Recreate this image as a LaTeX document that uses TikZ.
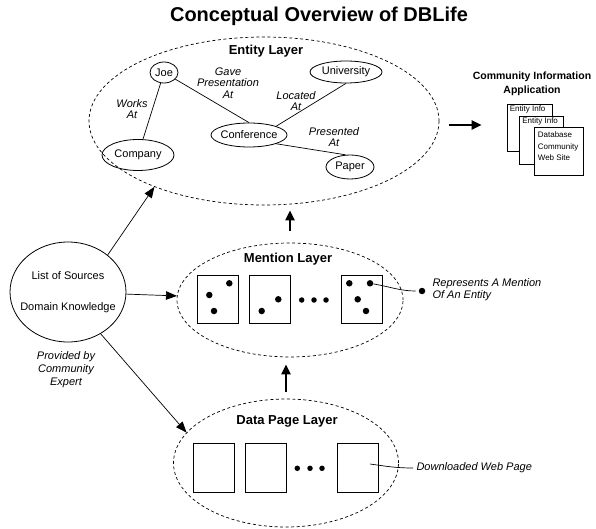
\documentclass[tikz,border=0pt]{standalone}
\usepackage{fontspec}
\setmainfont{Liberation Sans}
\usetikzlibrary{arrows.meta,shapes}

\begin{document}
\begin{tikzpicture}[x=1pt,y=-1pt]

		\useasboundingbox (0,0) rectangle (596,529);

		\tikzstyle{edge} = [draw,-,line width=0.7pt]
		\tikzstyle{arr} = [draw,-{Triangle[length=11pt,width=8.5pt]},line width=0.7pt]
		\tikzstyle{bigarr} = [draw,-{Triangle[length=10pt,width=9pt]},line width=2pt]

		\tikzset{layer/.style = {shape=ellipse,draw,dash pattern=on 3pt off 2.5pt,line width=0.7pt,inner sep=0pt}}
		\tikzset{vertex/.style = {shape=ellipse,draw,line width=0.8pt,inner xsep=-4pt,inner ysep=1pt,font=\fontsize{11}{13}\selectfont}}
		\tikzset{rel/.style = {align=center,font=\fontsize{11}{11.7}\selectfont\itshape}}
		\tikzset{title/.style = {font=\fontsize{13}{15}\selectfont\bfseries}}
		\tikzset{docbox/.style = {shape=rectangle,draw,line width=0.8pt,minimum width=41,minimum height=48,inner sep=0pt}}
		\tikzset{dot/.style = {shape=circle,fill,inner sep=0pt,minimum size=6.5}}
		\tikzset{sdot/.style = {shape=circle,fill,inner sep=0pt,minimum size=5.5}}
		\tikzset{page/.style = {shape=rectangle,draw,fill=white,line width=0.7pt,inner sep=0pt}}
		\tikzset{pagetxt/.style = {inner sep=1pt,font=\fontsize{8}{11.5}\selectfont}}

		\node[font=\fontsize{20}{24}\selectfont\bfseries] (head) at (319,16) {Conceptual Overview of DBLife};

		% entity layer
		\node[layer,minimum width=350,minimum height=168] (ent) at (264,121) {};
		\node[title] (entl) at (266,51) {Entity Layer};
		\node[vertex,minimum width=28,minimum height=21] (joe) at (164,72.5) {Joe};
		\node[vertex,minimum width=72,minimum height=22] (univ) at (346,72) {University};
		\node[vertex,minimum width=76,minimum height=24] (conf) at (249,135) {Conference};
		\node[vertex,minimum width=72,minimum height=31] (comp) at (138,155) {Company};
		\node[vertex,minimum width=48,minimum height=24] (pap) at (350,167) {Paper};

		\draw[edge] (joe) to (comp);
		\draw[edge] (joe) to (conf.north);
		\draw[edge] (conf.north east) to (univ.south);
		\draw[edge] (conf.south east) to (pap.110);

		\node[rel] (works) at (132,109) {Works\\At};
		\node[rel] (gave) at (228,83) {Gave\\Presentation\\At};
		\node[rel] (loc) at (296,101) {Located\\At};
		\node[rel] (pres) at (334,137) {Presented\\At};

		% community information application
		\node[align=center,font=\fontsize{10.5}{14}\selectfont\bfseries] (appl) at (532,84) {Community Information\\Application};
		\node[page,minimum width=45,minimum height=47] (p1) at (529.5,127.5) {};
		\node[pagetxt,anchor=north west] (p1t) at ([xshift=2pt,yshift=-1pt]p1.north west) {Entity Info};
		\node[page,minimum width=44,minimum height=48] (p2) at (541,140) {};
		\node[pagetxt,anchor=north west] (p2t) at ([xshift=2.5pt,yshift=-1pt]p2.north west) {Entity Info};
		\node[page,minimum width=49,minimum height=48] (p3) at (558.5,151) {};
		\node[pagetxt,anchor=north west,align=left] (p3t) at ([xshift=3pt,yshift=-4pt]p3.north west) {Database\\Community\\Web Site};

		\draw[bigarr,shorten <=10pt,shorten >=25pt] ([yshift=-4pt]ent.east) to ([yshift=-4pt]ent.east -| p1.west);

		% sources
		\node[vertex,inner xsep=-14pt,align=center,minimum width=116,minimum height=100] (src) at (68,292) {List of Sources\\[18pt]Domain Knowledge};
		\node[rel,font=\fontsize{11}{13}\selectfont\itshape] (prov) at (66,370) {Provided by\\Community\\Expert};

		% mention layer
		\node[layer,minimum width=226,minimum height=114] (men) at (290,300) {};
		\node[title] (menl) at (288,259) {Mention Layer};
		\node[docbox] (m1) at (217.5,299) {};
		\node[docbox] (m2) at (269.5,299) {};
		\node[docbox] (m3) at (362,299) {};
		\node[dot] (m1a) at (229.3,283.3) {};
		\node[dot] (m1b) at (209.3,295) {};
		\node[dot] (m1c) at (214,311) {};
		\node[dot] (m2a) at (278.3,299.3) {};
		\node[dot] (m2b) at (261.7,311) {};
		\node[sdot] (me1) at (301.7,300) {};
		\node[sdot] (me2) at (314,300) {};
		\node[sdot] (me3) at (326,300) {};
		\node[dot] (m3a) at (349.3,283.3) {};
		\node[dot] (m3b) at (370,283.3) {};
		\node[dot] (m3c) at (357.7,299.3) {};
		\node[dot] (m3d) at (366,311) {};

		\node[dot] (mdot) at (422,291) {};
		\node[rel,align=left,anchor=west] (mlab) at (429,290) {Represents A Mention\\Of An Entity};
		\draw[edge,shorten >=3pt] (m3b) to[out=-10,in=180] (mdot);

		% data page layer
		\node[layer,minimum width=225,minimum height=128] (dat) at (286,463) {};
		\node[title] (datl) at (287,421) {Data Page Layer};
		\node[docbox,minimum height=49] (d1) at (213.5,467.5) {};
		\node[docbox,minimum height=49] (d2) at (266,467.5) {};
		\node[docbox,minimum height=49] (d3) at (358,467.5) {};
		\node[sdot] (de1) at (297.3,468.3) {};
		\node[sdot] (de2) at (310,468.3) {};
		\node[sdot] (de3) at (322,468.3) {};

		\coordinate (d3in) at (370,464);
		\node[rel,anchor=west] (dlab) at (413,468) {Downloaded Web Page};
		\draw[edge] (d3in) to[out=-8,in=180] (dlab.west);

		% arrows between layers
		\draw[arr] (src.43) to (ent.211);
		\draw[arr] (src) to (men);
		\draw[arr] (src.308) to (dat.163);
		\draw[bigarr,shorten <=12pt,shorten >=5pt] (men.north) to (men.north |- ent.south);
		\draw[bigarr,shorten <=7pt,shorten >=7pt] (dat.north) to (dat.north |- men.south);

\end{tikzpicture}
\end{document}
